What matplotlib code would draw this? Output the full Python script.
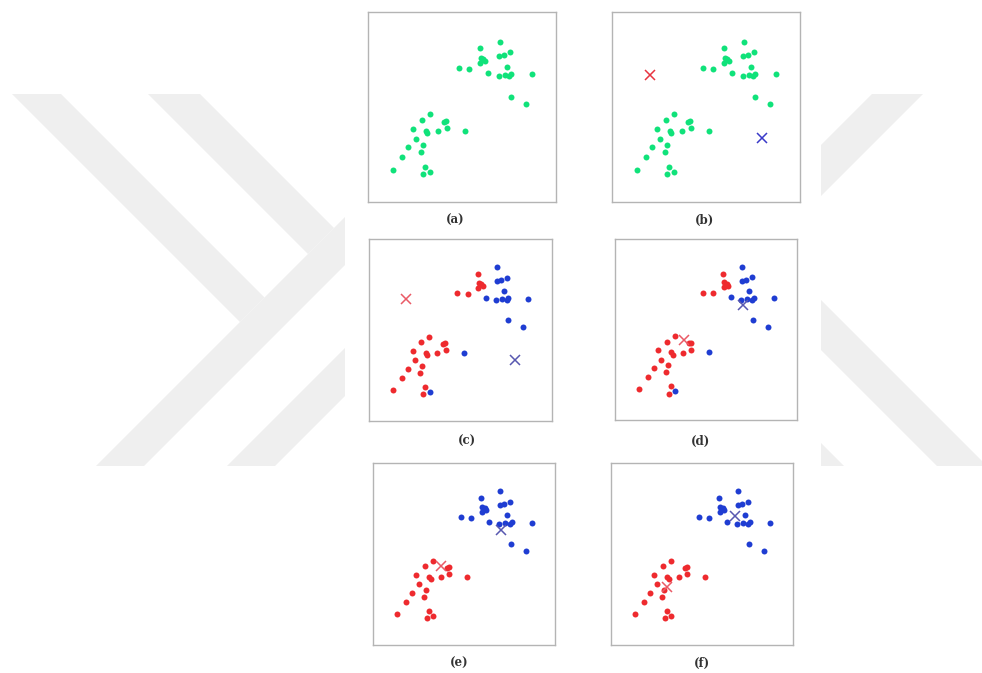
import matplotlib
matplotlib.use("Agg")
import matplotlib.pyplot as plt
from matplotlib.patches import Polygon

W, H = 982, 673

# sample points (x, y on a 0-100 grid)
pts_x = [59.6, 70.0, 69.7, 72.2, 75.5, 60.1, 61.3, 62.2, 59.8, 48.2,
         53.9, 63.7, 73.9, 69.5, 72.7, 75.2, 76.2, 87.1, 75.9, 84.2,
         32.8, 28.5, 40.6, 41.7, 23.9, 42.0, 31.0, 31.6, 37.1, 51.8,
         25.4, 29.1, 21.5, 28.0, 18.3, 13.1, 30.5, 33.2, 29.4]
pts_y = [80.9, 84.4, 76.8, 77.4, 78.8, 76.0, 75.1, 74.2, 73.3, 70.4,
         70.0, 67.7, 71.2, 66.5, 66.8, 66.5, 67.5, 67.2, 55.4, 51.4,
         46.3, 43.2, 42.3, 42.8, 38.6, 38.8, 37.5, 36.1, 37.2, 37.5,
         33.3, 30.2, 28.8, 26.3, 23.5, 17.0, 18.6, 16.0, 14.6]

# cluster labels (0 = red, 1 = blue)
labels_cd = [0, 1, 1, 1, 1, 0, 0, 0, 0, 0,
             0, 1, 1, 1, 1, 1, 1, 1, 1, 1,
             0, 0, 0, 0, 0, 0, 0, 0, 0, 1,
             0, 0, 0, 0, 0, 0, 0, 1, 0]
labels_ef = [1] * 20 + [0] * 19

# centroids [red, blue] for each step
cent_b = [(20.0, 67.0), (80.0, 33.7)]
cent_d = [(37.8, 44.1), (70.4, 63.4)]
cent_e = [(37.4, 43.6), (70.1, 63.0)]
cent_f = [(31.0, 31.6), (67.9, 70.7)]

panel_names = ["(a)", "(b)", "(c)", "(d)", "(e)", "(f)"]

GREEN = "#10e27a"
RED = "#ee2a2e"
BLUE = "#1f3dd2"

fig = plt.figure(figsize=(W / 100, H / 100), dpi=100)
fig.patch.set_facecolor("white")


def fx(x, y):
    return (x / W, 1 - y / H)


# background logo bands, pixel coords
bands = [
    [(12, 94), (61, 94), (264.5, 297.5), (240, 322)],
    [(148, 94), (200, 94), (334, 228), (308, 254)],
    [(96, 466), (144, 466), (345, 265), (345, 217)],
    [(227, 466), (275, 466), (345, 396), (345, 348)],
    [(821, 145), (872, 94), (923, 94), (821, 196)],
    [(821, 300), (821, 350), (937, 466), (982, 466), (982, 461)],
    [(821, 443), (821, 466), (844, 466)],
]
for b in bands:
    fig.add_artist(Polygon([fx(*p) for p in b], closed=True,
                           transform=fig.transFigure, facecolor="#efefef",
                           edgecolor="none", zorder=0))

# panel frames (left, top, right, bottom) in pixels
frames = [(368, 12, 556, 202), (612, 12, 800, 202),
          (369, 239, 552, 421), (615, 239, 797, 420),
          (373, 463, 555, 645), (611, 463, 793, 645)]
label_pos = [(455, 220), (704, 220), (467, 441), (700, 441),
             (459, 663), (702, 663)]

axes = []
for (l, t, r, btm) in frames:
    ax = fig.add_axes([l / W, 1 - btm / H, (r - l) / W, (btm - t) / H])
    ax.set_xlim(0, 100)
    ax.set_ylim(0, 100)
    ax.set_xticks([])
    ax.set_yticks([])
    for s in ax.spines.values():
        s.set_color("#b4b4b4")
        s.set_linewidth(1.0)
    axes.append(ax)


def draw_points(ax, labels=None):
    if labels is None:
        ax.plot(pts_x, pts_y, "o", color=GREEN, ms=4.3, mew=0)
        return
    for k, c in ((0, RED), (1, BLUE)):
        xs = [x for x, lb in zip(pts_x, labels) if lb == k]
        ys = [y for y, lb in zip(pts_y, labels) if lb == k]
        ax.plot(xs, ys, "o", color=c, ms=4.3, mew=0)


def draw_cents(ax, cents, cols):
    for (cx, cy), c in zip(cents, cols):
        ax.plot(cx, cy, "x", color=c, ms=7, mew=1.1)


draw_points(axes[0])
draw_points(axes[1])
draw_cents(axes[1], cent_b, ["#e83440", "#3a3ac8"])
draw_points(axes[2], labels_cd)
draw_cents(axes[2], cent_b, ["#ea5a66", "#5858b0"])
draw_points(axes[3], labels_cd)
draw_cents(axes[3], cent_d, ["#ea5a66", "#5858b0"])
draw_points(axes[4], labels_ef)
draw_cents(axes[4], cent_e, ["#ea5a66", "#5858b0"])
draw_points(axes[5], labels_ef)
draw_cents(axes[5], cent_f, ["#ea5a66", "#5858b0"])

for name, (x, y) in zip(panel_names, label_pos):
    fig.text(x / W, 1 - y / H, name, ha="center", va="center",
             fontsize=8.5, family="DejaVu Serif", fontweight="bold",
             color="#333333")

fig.savefig("out.png", dpi=100)
